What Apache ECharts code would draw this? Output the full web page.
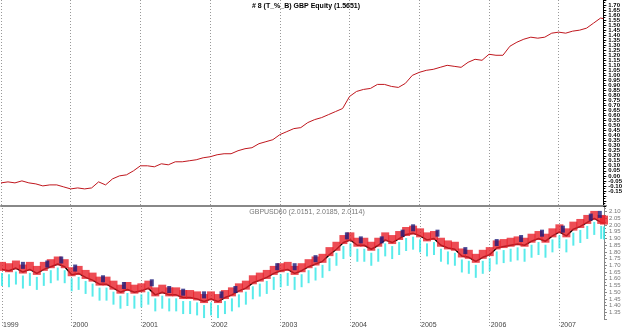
<!DOCTYPE html>
<html>
<head>
<meta charset="utf-8">
<script src="https://cdn.jsdelivr.net/npm/echarts@6/dist/echarts.min.js"></script>
<style>
  html, body { margin: 0; padding: 0; background: #fff; }
  #chart { width: 625px; height: 329px; }
</style>
</head>
<body>
<div id="chart"></div>
<script>
// x positions in fractional years
var xYears = [
  1999.0, 1999.1, 1999.2, 1999.3, 1999.4, 1999.5, 1999.6, 1999.7, 1999.8, 1999.9,
  2000.0, 2000.1, 2000.2, 2000.3, 2000.4, 2000.5, 2000.6, 2000.7, 2000.8, 2000.9,
  2001.0, 2001.1, 2001.2, 2001.3, 2001.4, 2001.5, 2001.6, 2001.7, 2001.8, 2001.9,
  2002.0, 2002.1, 2002.2, 2002.3, 2002.4, 2002.5, 2002.6, 2002.7, 2002.8, 2002.9,
  2003.0, 2003.1, 2003.2, 2003.3, 2003.4, 2003.5, 2003.6, 2003.7, 2003.8, 2003.9,
  2004.0, 2004.1, 2004.2, 2004.3, 2004.4, 2004.5, 2004.6, 2004.7, 2004.8, 2004.9,
  2005.0, 2005.1, 2005.2, 2005.3, 2005.4, 2005.5, 2005.6, 2005.7, 2005.8, 2005.9,
  2006.0, 2006.1, 2006.2, 2006.3, 2006.4, 2006.5, 2006.6, 2006.7, 2006.8, 2006.9,
  2007.0, 2007.1, 2007.2, 2007.3, 2007.4, 2007.5, 2007.6, 2007.64
];

// GBP equity curve (top panel)
var equity = [
  -0.07, -0.06, -0.07, -0.05, -0.07, -0.08, -0.10, -0.09, -0.09, -0.11,
  -0.13, -0.12, -0.13, -0.12, -0.06, -0.09, -0.03, 0.00, 0.01, 0.05,
  0.10, 0.10, 0.09, 0.12, 0.11, 0.14, 0.14, 0.15, 0.16, 0.18,
  0.19, 0.21, 0.22, 0.22, 0.25, 0.27, 0.28, 0.32, 0.34, 0.36,
  0.41, 0.44, 0.47, 0.48, 0.53, 0.56, 0.58, 0.61, 0.64, 0.67,
  0.79, 0.84, 0.86, 0.87, 0.91, 0.91, 0.89, 0.88, 0.92, 1.00,
  1.03, 1.05, 1.06, 1.08, 1.10, 1.09, 1.08, 1.13, 1.16, 1.15,
  1.21, 1.20, 1.20, 1.29, 1.33, 1.36, 1.38, 1.37, 1.38, 1.42,
  1.43, 1.42, 1.44, 1.45, 1.47, 1.52, 1.57, 1.5651
];

// GBPUSD close (bottom panel)
var price = [
  1.67, 1.66, 1.68, 1.65, 1.67, 1.64, 1.67, 1.69, 1.71, 1.69,
  1.63, 1.64, 1.61, 1.59, 1.56, 1.56, 1.53, 1.50, 1.52, 1.50,
  1.51, 1.53, 1.48, 1.50, 1.48, 1.48, 1.46, 1.46, 1.45, 1.43,
  1.45, 1.43, 1.46, 1.48, 1.51, 1.53, 1.57, 1.59, 1.61, 1.64,
  1.66, 1.67, 1.64, 1.66, 1.69, 1.71, 1.73, 1.78, 1.82, 1.87,
  1.89, 1.85, 1.85, 1.82, 1.85, 1.89, 1.87, 1.90, 1.93, 1.94,
  1.92, 1.89, 1.90, 1.85, 1.83, 1.82, 1.77, 1.76, 1.73, 1.76,
  1.78, 1.83, 1.84, 1.85, 1.86, 1.85, 1.88, 1.90, 1.88, 1.92,
  1.95, 1.92, 1.97, 1.99, 2.02, 2.05, 2.02, 2.0151
];

// navy markers at local highs
var highMarks = [
  [1999.3, 1.70], [1999.65, 1.71], [1999.85, 1.74], [2000.05, 1.68], [2000.45, 1.60],
  [2000.75, 1.55], [2001.15, 1.57], [2001.4, 1.52], [2001.6, 1.50], [2001.9, 1.48],
  [2002.15, 1.48], [2002.35, 1.52], [2002.95, 1.69], [2003.2, 1.69], [2003.5, 1.75],
  [2003.95, 1.92], [2004.15, 1.89], [2004.45, 1.89], [2004.75, 1.94], [2004.9, 1.98],
  [2005.25, 1.94], [2005.65, 1.81], [2006.1, 1.87], [2006.45, 1.90], [2006.75, 1.94],
  [2007.05, 1.97], [2007.45, 2.06], [2007.58, 2.08]
];

var titleTop = '# 8 (T_%_B) GBP Equity (1.5651)';
var titleBottom = 'GBPUSD60 (2.0151, 2.0185, 2.0114)';

function pairs(xs, ys) {
  var out = [];
  for (var i = 0; i < ys.length; i++) out.push([xs[i], ys[i]]);
  return out;
}

var chart = echarts.init(document.getElementById('chart'), null, { renderer: 'canvas' });
var font = 'Liberation Sans';

var xAxisBase = {
  type: 'value',
  min: 1999,
  max: 2007.64,
  interval: 1,
  splitLine: { show: true, lineStyle: { color: '#999', type: [1, 2], width: 1 } }
};

var option = {
  animation: false,
  backgroundColor: '#fff',
  title: [
    {
      text: titleTop, left: 301, top: -2, textAlign: 'center',
      textStyle: { fontFamily: font, fontSize: 7, fontWeight: 'bold', color: '#000' }
    },
    {
      text: titleBottom, left: 302, top: 204, textAlign: 'center',
      textStyle: { fontFamily: font, fontSize: 7, fontWeight: 'normal', color: '#777' }
    }
  ],
  grid: [
    { left: 1, right: 21, top: 0, height: 206 },
    { left: 1, right: 21, top: 205, height: 118 }
  ],
  xAxis: [
    Object.assign({}, xAxisBase, {
      gridIndex: 0,
      axisLabel: { show: false },
      axisTick: { show: false },
      axisLine: { show: true, onZero: false, lineStyle: { color: '#888', width: 2 } }
    }),
    Object.assign({}, xAxisBase, {
      gridIndex: 1,
      axisLine: { show: false },
      axisTick: { show: true, length: 7, lineStyle: { color: '#999', type: [1, 2] } },
      axisLabel: {
        show: true, align: 'left', margin: 3, padding: [0, 0, 0, 1],
        fontFamily: font, fontSize: 7, color: '#444', showMaxLabel: false,
        formatter: function (v) { return String(Math.round(v)); }
      }
    })
  ],
  yAxis: [
    {
      type: 'value', gridIndex: 0, position: 'right',
      min: -0.30, max: 1.75, interval: 0.05,
      splitLine: { show: false },
      axisLine: { show: true, lineStyle: { color: '#000', width: 1 } },
      axisTick: { show: true, length: 3, lineStyle: { color: '#000' } },
      minorTick: { show: true, splitNumber: 2, length: 2, lineStyle: { color: '#000' } },
      axisLabel: {
        margin: 5, fontFamily: font, fontSize: 6, fontWeight: 'bold', color: '#000',
        formatter: function (v) {
          if (v < -0.151 || v > 1.701) return '';
          return v.toFixed(2);
        }
      }
    },
    {
      type: 'value', gridIndex: 1, position: 'right',
      min: 1.30, max: 2.15, interval: 0.05,
      splitLine: { show: false },
      axisLine: { show: true, lineStyle: { color: '#888', width: 1 } },
      axisTick: { show: true, length: 3, lineStyle: { color: '#888' } },
      minorTick: { show: true, splitNumber: 2, length: 2, lineStyle: { color: '#888' } },
      axisLabel: {
        margin: 5, fontFamily: font, fontSize: 6, color: '#777',
        formatter: function (v) {
          if (v < 1.349 || v > 2.101) return '';
          return v.toFixed(2);
        }
      }
    }
  ],
  series: [
    {
      name: 'Equity', type: 'line', xAxisIndex: 0, yAxisIndex: 0,
      data: pairs(xYears, equity), showSymbol: false,
      lineStyle: { color: '#c0171e', width: 1 }
    },
    {
      name: 'Lows', type: 'scatter', xAxisIndex: 1, yAxisIndex: 1,
      data: pairs(xYears, price), symbol: 'rect', symbolSize: [2, 13], symbolOffset: [0, 10],
      itemStyle: { color: '#2fe6e6' }, z: 2
    },
    {
      name: 'Close', type: 'line', xAxisIndex: 1, yAxisIndex: 1,
      data: pairs(xYears, price), showSymbol: false,
      lineStyle: { color: '#000', width: 1.5 }, z: 3
    },
    {
      name: 'Band', type: 'scatter', xAxisIndex: 1, yAxisIndex: 1,
      data: pairs(xYears, price), symbol: 'rect', symbolSize: [8, 9], symbolOffset: [0, -3],
      itemStyle: { color: '#e8202a' }, z: 4
    },
    {
      name: 'Highs', type: 'scatter', xAxisIndex: 1, yAxisIndex: 1,
      data: highMarks, symbol: 'rect', symbolSize: [4, 7],
      itemStyle: { color: '#1c1c7a' }, z: 5
    }
  ]
};

chart.setOption(option);
</script>
</body>
</html>
